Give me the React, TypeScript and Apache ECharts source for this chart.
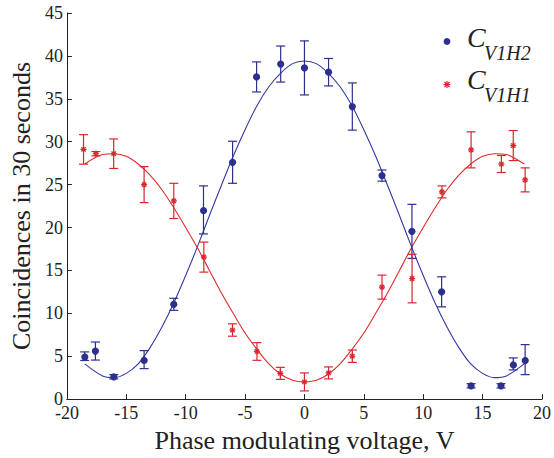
import React, { useEffect, useRef } from "react";
import * as echarts from "echarts";

// Measured points (Phase modulating voltage, V)
const blueX = [-18.5, -17.6, -16.05, -13.5, -11, -8.5, -6.05, -4.03, -2, 0, 2.03, 4.03, 6.53, 9.05, 11.55, 14.03, 16.55, 17.58, 18.58];
const blueY = [5.0, 5.6, 2.6, 4.6, 11.05, 22.05, 27.6, 37.55, 39.05, 38.6, 38.1, 34.1, 26.05, 19.55, 12.5, 1.55, 1.55, 4.1, 4.6];
const blueErr = [0.5, 1.05, 0.25, 1.05, 0.7, 2.8, 2.45, 1.75, 2.1, 3.15, 1.6, 2.75, 0.65, 3.15, 1.75, 0.25, 0.25, 0.7, 1.75];

const redX = [-18.6, -17.56, -16.06, -13.5, -11, -8.47, -6.06, -4, -2.03, 0, 2.03, 4.03, 6.53, 9.06, 11.58, 14.03, 16.58, 17.58, 18.58];
const redY = [29.1, 28.6, 28.6, 25.0, 23.1, 16.55, 8.05, 5.55, 3.0, 2.0, 3.05, 5.0, 13.05, 14.05, 24.15, 29.05, 27.4, 29.55, 25.55];
const redErr = [1.72, 0.25, 1.72, 2.1, 2.05, 1.75, 0.72, 1.03, 0.7, 1.05, 0.7, 0.72, 1.4, 2.83, 0.7, 2.1, 0.99, 1.75, 1.4];

// Fitted curves
const fitX = [-18.5, -17, -16, -15, -14, -13, -12, -11, -10, -9, -8, -7, -6, -5, -4, -3, -2, -1, 0, 1, 2, 3, 4, 5, 6, 7, 8, 9, 10, 11, 12, 13, 14, 15, 16, 17, 18.5];
const blueFit = [4.1, 2.7, 2.5, 3.0, 4.1, 6.0, 8.4, 11.2, 14.4, 17.8, 21.4, 24.9, 28.3, 31.4, 34.2, 36.4, 38.0, 39.1, 39.4, 39.1, 38.0, 36.4, 34.2, 31.4, 28.3, 24.9, 21.4, 17.8, 14.4, 11.2, 8.4, 6.0, 4.1, 3.0, 2.5, 2.7, 4.1];
const redFit = [27.4, 28.5, 28.6, 28.3, 27.4, 26.1, 24.4, 22.3, 20.0, 17.6, 15.0, 12.4, 10.0, 7.7, 5.8, 4.1, 2.9, 2.2, 2.0, 2.2, 2.9, 4.1, 5.8, 7.7, 10.0, 12.4, 15.0, 17.6, 20.0, 22.3, 24.4, 26.1, 27.4, 28.3, 28.6, 28.5, 27.4];

const BLUE = "#2b2f8e";
const RED = "#d9262c";
const SERIF = "'Liberation Serif', 'DejaVu Serif', serif";

function errSeries(xs: number[], ys: number[], es: number[], color: string, star: boolean) {
  return {
    type: "custom",
    data: xs.map((x, i) => [x, ys[i], es[i]]),
    encode: { x: 0, y: 1 },
    renderItem: (params: any, api: any) => {
      const x = api.value(0), y = api.value(1), e = api.value(2);
      const c = api.coord([x, y]);
      const t = api.coord([x, y + e]);
      const b = api.coord([x, y - e]);
      const w = 4.5;
      const ls = { stroke: color, lineWidth: 1.2 };
      const children: any[] = [
        { type: "line", shape: { x1: c[0], y1: t[1], x2: c[0], y2: b[1] }, style: ls },
        { type: "line", shape: { x1: c[0] - w, y1: t[1], x2: c[0] + w, y2: t[1] }, style: ls },
        { type: "line", shape: { x1: c[0] - w, y1: b[1], x2: c[0] + w, y2: b[1] }, style: ls },
      ];
      if (star) {
        const s = 3;
        const d = s * 0.72;
        const ms = { stroke: color, lineWidth: 1.3 };
        children.push(
          { type: "line", shape: { x1: c[0] - s, y1: c[1], x2: c[0] + s, y2: c[1] }, style: ms },
          { type: "line", shape: { x1: c[0], y1: c[1] - s, x2: c[0], y2: c[1] + s }, style: ms },
          { type: "line", shape: { x1: c[0] - d, y1: c[1] - d, x2: c[0] + d, y2: c[1] + d }, style: ms },
          { type: "line", shape: { x1: c[0] - d, y1: c[1] + d, x2: c[0] + d, y2: c[1] - d }, style: ms }
        );
      } else {
        children.push({ type: "circle", shape: { cx: c[0], cy: c[1], r: 3.6 }, style: { fill: color } });
      }
      return { type: "group", children };
    },
    z: 3,
  };
}

export default function App() {
  const ref = useRef<HTMLDivElement>(null);
  useEffect(() => {
    if (!ref.current) return;
    const chart = echarts.init(ref.current, null, { renderer: "svg" });
    const axisCommon = {
      axisLine: { show: true, onZero: false, lineStyle: { color: "#222", width: 1 } },
      axisTick: { show: true, inside: true, length: 5, lineStyle: { color: "#222" } },
      splitLine: { show: false },
      nameTextStyle: { fontFamily: SERIF, fontSize: 26, color: "#222" },
    };
    chart.setOption({
      animation: false,
      backgroundColor: "#fff",
      grid: { left: 65, right: 9, top: 13, bottom: 52, containLabel: false },
      xAxis: {
        type: "value",
        min: -20,
        max: 20,
        interval: 5,
        name: "Phase modulating voltage, V",
        nameLocation: "middle",
        nameGap: 21,
        axisLabel: { fontFamily: SERIF, fontSize: 18, color: "#222", margin: 5 },
        ...axisCommon,
      },
      yAxis: {
        type: "value",
        min: 0,
        max: 45,
        interval: 5,
        name: "Coincidences in 30 seconds",
        nameLocation: "middle",
        nameGap: 29,
        axisLabel: { fontFamily: SERIF, fontSize: 18, color: "#222", margin: 4 },
        ...axisCommon,
      },
      series: [
        {
          type: "line",
          data: fitX.map((x, i) => [x, blueFit[i]]),
          smooth: 0.3,
          showSymbol: false,
          lineStyle: { color: "#3438a2", width: 1.1 },
          z: 2,
        },
        {
          type: "line",
          data: fitX.map((x, i) => [x, redFit[i]]),
          smooth: 0.3,
          showSymbol: false,
          lineStyle: { color: "#e02a2f", width: 1.1 },
          z: 2,
        },
        errSeries(blueX, blueY, blueErr, BLUE, false),
        errSeries(redX, redY, redErr, RED, true),
      ],
      graphic: [
        { type: "circle", shape: { cx: 447, cy: 41.5, r: 3.4 }, style: { fill: BLUE } },
        {
          type: "group",
          children: [
            { type: "line", shape: { x1: 443.5, y1: 84.5, x2: 450.5, y2: 84.5 }, style: { stroke: RED, lineWidth: 1.2 } },
            { type: "line", shape: { x1: 447, y1: 81, x2: 447, y2: 88 }, style: { stroke: RED, lineWidth: 1.2 } },
            { type: "line", shape: { x1: 444.5, y1: 82, x2: 449.5, y2: 87 }, style: { stroke: RED, lineWidth: 1.2 } },
            { type: "line", shape: { x1: 444.5, y1: 87, x2: 449.5, y2: 82 }, style: { stroke: RED, lineWidth: 1.2 } },
          ],
        },
        { type: "text", x: 467, y: 37, style: { text: "C", fontFamily: SERIF, fontStyle: "italic", fontSize: 28, fill: "#222", verticalAlign: "middle" } },
        { type: "text", x: 484, y: 52.5, style: { text: "V1H2", fontFamily: SERIF, fontStyle: "italic", fontSize: 20, fill: "#222", verticalAlign: "middle" } },
        { type: "text", x: 467, y: 79, style: { text: "C", fontFamily: SERIF, fontStyle: "italic", fontSize: 28, fill: "#222", verticalAlign: "middle" } },
        { type: "text", x: 484, y: 94.5, style: { text: "V1H1", fontFamily: SERIF, fontStyle: "italic", fontSize: 20, fill: "#222", verticalAlign: "middle" } },
      ],
    });
    return () => chart.dispose();
  }, []);
  return <div ref={ref} style={{ position: "fixed", left: 0, top: 0, width: 554, height: 458, background: "#fff" }} />;
}
